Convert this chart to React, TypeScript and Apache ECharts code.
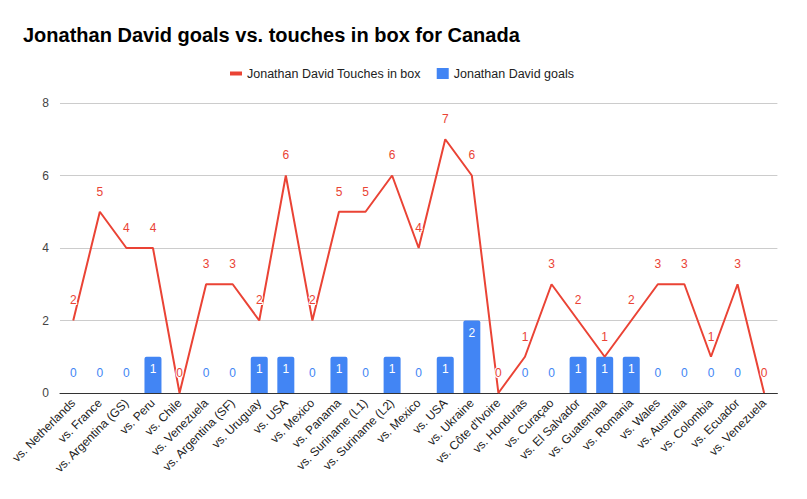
import { useEffect, useRef } from "react";
import * as echarts from "echarts";

const matches = [
  "vs. Netherlands", "vs. France", "vs. Argentina (GS)", "vs. Peru", "vs. Chile",
  "vs. Venezuela", "vs. Argentina (SF)", "vs. Uruguay", "vs. USA", "vs. Mexico",
  "vs. Panama", "vs. Suriname (L1)", "vs. Suriname (L2)", "vs. Mexico", "vs. USA",
  "vs. Ukraine", "vs. Côte d'Ivoire", "vs. Honduras", "vs. Curaçao", "vs. El Salvador",
  "vs. Guatemala", "vs. Romania", "vs. Wales", "vs. Australia", "vs. Colombia",
  "vs. Ecuador", "vs. Venezuela",
];

const touchesInBox = [2, 5, 4, 4, 0, 3, 3, 2, 6, 2, 5, 5, 6, 4, 7, 6, 0, 1, 3, 2, 1, 2, 3, 3, 1, 3, 0];
const goals = [0, 0, 0, 1, 0, 0, 0, 1, 1, 0, 1, 0, 1, 0, 1, 2, 0, 0, 0, 1, 1, 1, 0, 0, 0, 0, 0];

const RED = "#ea4335";
const BLUE = "#4285f4";
const FONT = "'Liberation Sans', Arial, sans-serif";

export default function App() {
  const ref = useRef<HTMLDivElement | null>(null);

  useEffect(() => {
    if (!ref.current) return;
    const chart = echarts.init(ref.current, null, { renderer: "svg" });

    chart.setOption({
      animation: false,
      textStyle: { fontFamily: FONT },
      title: {
        text: "Jonathan David goals vs. touches in box for Canada",
        left: 10,
        top: 12,
        textStyle: { fontSize: 20, fontWeight: "bold", color: "#000", fontFamily: FONT },
      },
      legend: {
        left: 217,
        top: 54,
        itemWidth: 12,
        itemHeight: 11,
        itemGap: 16,
        textStyle: { fontSize: 12.5, color: "#222", fontFamily: FONT },
        data: [
          { name: "Jonathan David Touches in box", icon: "path://M0,0h12v4h-12z" },
          { name: "Jonathan David goals", icon: "rect" },
        ],
      },
      grid: { left: 48.6, right: 21.6, top: 95, bottom: 98, containLabel: false },
      xAxis: {
        type: "category",
        data: matches,
        axisTick: { show: false },
        axisLine: { lineStyle: { color: "#333", width: 1 } },
        axisLabel: { rotate: 45, interval: 0, fontSize: 12, color: "#222", margin: 8, fontFamily: FONT },
      },
      yAxis: {
        type: "value",
        min: 0,
        max: 8,
        interval: 2,
        axisLine: { show: false },
        axisTick: { show: false },
        axisLabel: { fontSize: 12, color: "#444", margin: 11, fontFamily: FONT },
        splitLine: { lineStyle: { color: "#ccc" } },
      },
      series: [
        {
          name: "Jonathan David Touches in box",
          type: "line",
          data: touchesInBox,
          z: 3,
          showSymbol: true,
          symbol: "circle",
          symbolSize: 0.1,
          lineStyle: { color: RED, width: 2 },
          itemStyle: { color: RED },
          label: {
            show: true,
            position: "top",
            distance: 14,
            color: RED,
            fontSize: 12,
            textBorderColor: "#fff",
            textBorderWidth: 2,
            fontFamily: FONT,
          },
        },
        {
          name: "Jonathan David goals",
          type: "bar",
          z: 2,
          barWidth: 17,
          itemStyle: { color: BLUE, borderRadius: [2, 2, 0, 0] },
          data: goals.map((g) => ({
            value: g,
            label:
              g === 0
                ? { show: true, position: "top", distance: 14, color: BLUE }
                : { show: true, position: "insideTop", distance: 6, color: "#fff" },
          })),
          label: { show: true, fontSize: 12, fontFamily: FONT },
        },
      ],
    });

    return () => chart.dispose();
  }, []);

  return <div ref={ref} style={{ width: 791, height: 483 }} />;
}
